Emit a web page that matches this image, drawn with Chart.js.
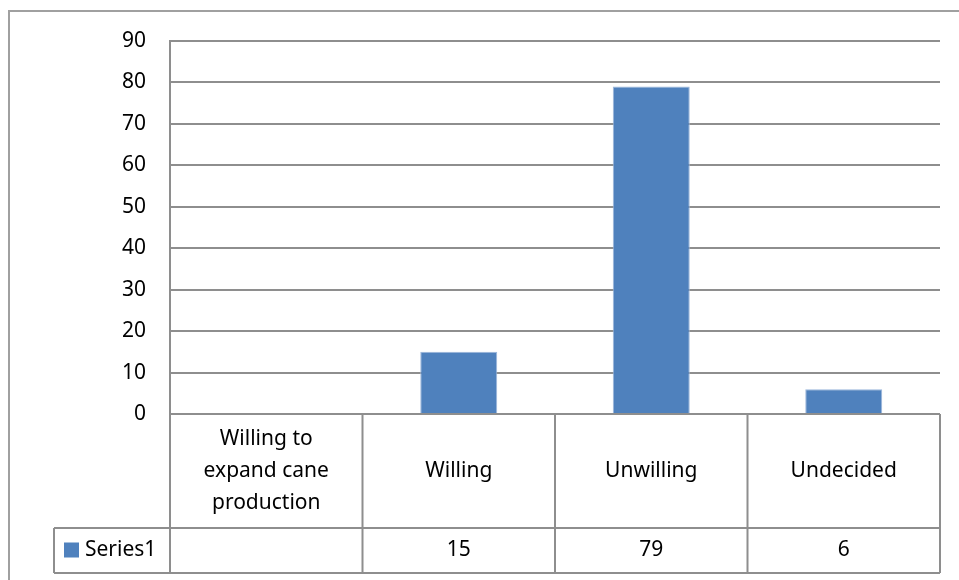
<!DOCTYPE html>
<html>
<head>
<meta charset="utf-8">
<script src="https://cdn.jsdelivr.net/npm/chart.js@4/dist/chart.umd.min.js"></script>
<style>
  html, body { margin: 0; padding: 0; background: #fff; }
  #wrap { position: relative; width: 959px; height: 580px; }
  #frame { position: absolute; left: 8px; top: 10px; width: 980px; height: 600px; border: 2px solid #a0a0a0; box-sizing: border-box; pointer-events: none; }
</style>
</head>
<body>
<div id="wrap">
  <canvas id="c" width="959" height="580"></canvas>
  <div id="frame"></div>
</div>
<script>
// ---------- data ----------
const categories = [["Willing to", "expand cane", "production"], "Willing", "Unwilling", "Undecided"];
const series1 = [null, 15, 79, 6];
const seriesName = "Series1";
const yMax = 90;
const yStep = 10;

const FONT = '"Noto Sans", "Open Sans", sans-serif';
const FSIZE = 21;
const GRID = "#8e8e8e";
const BAR = "#4f81bd";

// data table under the plot, drawn from the same arrays
const dataTable = {
  id: "dataTable",
  afterDraw(chart) {
    const ctx = chart.ctx;
    const x = chart.scales.x;
    const area = chart.chartArea;
    const n = categories.length;
    const half = (x.getPixelForValue(1) - x.getPixelForValue(0)) / 2;
    const edges = [];
    for (let i = 0; i < n; i++) edges.push(x.getPixelForValue(i) - half);
    edges.push(x.getPixelForValue(n - 1) + half);

    const top = area.bottom;
    const rowSplit = 528;
    const bottom = 573;
    const legendLeft = 54;

    ctx.save();
    ctx.strokeStyle = GRID;
    ctx.lineWidth = 2;
    ctx.beginPath();
    edges.forEach((e) => { ctx.moveTo(e, top); ctx.lineTo(e, bottom); });
    ctx.moveTo(edges[0], top); ctx.lineTo(edges[n], top);
    ctx.moveTo(legendLeft, rowSplit); ctx.lineTo(edges[n], rowSplit);
    ctx.moveTo(legendLeft, bottom); ctx.lineTo(edges[n], bottom);
    ctx.moveTo(legendLeft, rowSplit); ctx.lineTo(legendLeft, bottom);
    ctx.stroke();

    ctx.fillStyle = "#000";
    ctx.font = `${FSIZE}px ${FONT}`;
    ctx.textAlign = "center";
    ctx.textBaseline = "middle";
    const headMid = (top + rowSplit) / 2;
    const lh = 32;
    categories.forEach((lab, i) => {
      const cx = (edges[i] + edges[i + 1]) / 2;
      const lines = Array.isArray(lab) ? lab : [lab];
      const y0 = headMid - (lines.length - 1) * lh / 2;
      lines.forEach((t, k) => ctx.fillText(t, cx, y0 + k * lh));
    });

    const rowMid = (rowSplit + bottom) / 2;
    series1.forEach((v, i) => {
      if (v === null) return;
      ctx.fillText(String(v), (edges[i] + edges[i + 1]) / 2, rowMid);
    });

    ctx.fillStyle = BAR;
    ctx.fillRect(64, rowMid - 8, 15, 15);
    ctx.fillStyle = "#000";
    ctx.textAlign = "left";
    ctx.fillText(seriesName, 85, rowMid);
    ctx.restore();
  }
};

new Chart(document.getElementById("c"), {
  type: "bar",
  data: {
    labels: categories,
    datasets: [{
      label: seriesName,
      data: series1,
      backgroundColor: BAR,
      borderColor: "#9bb7dc",
      borderWidth: 1,
      barPercentage: 0.4,
      categoryPercentage: 1.0
    }]
  },
  options: {
    responsive: false,
    animation: false,
    layout: { padding: { left: 0, top: 41, right: 19, bottom: 166 } },
    plugins: { legend: { display: false }, tooltip: { enabled: false } },
    scales: {
      x: { display: false },
      y: {
        min: 0,
        max: yMax,
        border: { display: true, color: GRID, width: 2 },
        grid: { color: GRID, lineWidth: 2, drawTicks: false },
        ticks: {
          stepSize: yStep,
          color: "#000",
          padding: 24,
          font: { family: FONT, size: FSIZE }
        },
        afterFit(scale) { scale.width = 170; }
      }
    }
  },
  plugins: [dataTable]
});
</script>
</body>
</html>
